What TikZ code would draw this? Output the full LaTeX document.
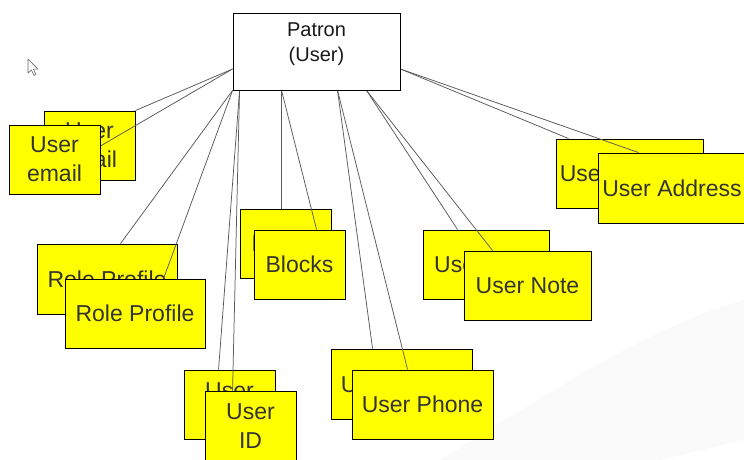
\documentclass[tikz,border=0pt]{standalone}
\usepackage{fontspec}
\setmainfont{Liberation Sans}
\definecolor{pyellow}{RGB}{255,255,0}
\pgfdeclarelayer{backconn}
\pgfdeclarelayer{backbox}
\pgfdeclarelayer{frontconn}
\pgfsetlayers{backconn,backbox,frontconn,main}
\begin{document}
\begin{tikzpicture}[x=1pt,y=-1pt,
  ybox/.style={draw=black, line width=0.9pt, fill=pyellow, text=black!80,
    font=\fontsize{23}{28.7}\selectfont, align=center, inner sep=0pt},
  pbox/.style={draw=black, line width=0.9pt, fill=white, inner sep=0pt,
    minimum width=167pt, minimum height=77pt},
  ptext/.style={text=black!90, font=\fontsize{20}{25}\selectfont, align=center, inner sep=0pt},
  conn/.style={draw=black!65, line width=0.75pt}]
\useasboundingbox (0,0) rectangle (744,460);
\begin{pgfonlayer}{backconn}
\fill[white] (0,0) rectangle (744,460);
% faint background swoosh
\fill[black!2] (440,460) .. controls (540,400) and (640,330) .. (744,300) -- (744,440) .. controls (700,450) and (680,455) .. (660,460) -- cycle;
% mouse cursor
\draw[black!60, fill=white, line width=0.6pt, line join=round] (28,59) -- (28,73) -- (31.5,70) -- (34,75.5) -- (36,74.5) -- (33.5,69.2) -- (38,69.2) -- cycle;
\end{pgfonlayer}

% central box
\node[pbox] (patron) at (316.5,51.5) {};
\node[ptext] (ptxt) at (316.5,44.5) {Patron\\(User)};

% back boxes
\begin{pgfonlayer}{backbox}
\node[ybox, minimum width=91pt, minimum height=69pt] (eb) at (89.5,145.5) {User\\email};
\node[ybox, minimum width=140pt, minimum height=70pt] (rb) at (107,279) {Role Profile};
\node[ybox, minimum width=91pt, minimum height=69pt] (ib) at (229.5,404.5) {User\\ID};
\node[ybox, minimum width=91pt, minimum height=69pt] (bb) at (285.5,243.5) {Blocks};
\node[ybox, minimum width=141pt, minimum height=70pt] (phb) at (401.5,384) {User Phone};
\node[ybox, minimum width=126pt, minimum height=69pt] (nb) at (486,264.5) {User Note};
\node[ybox, minimum width=147pt, minimum height=69pt] (ab) at (629.5,173.5) {User Address};
\end{pgfonlayer}

% front boxes
\node[ybox, minimum width=91pt, minimum height=69pt] (ef) at (54.5,159.5) {User\\email};
\node[ybox, minimum width=140pt, minimum height=69pt] (rf) at (135,313.5) {Role Profile};
\node[ybox, minimum width=91pt, minimum height=70.5pt] (idf) at (250.5,426.25) {User\\ID};
\node[ybox, minimum width=91pt, minimum height=69pt] (bf) at (299.5,264.5) {Blocks};
\node[ybox, minimum width=141pt, minimum height=69pt] (phf) at (422.5,404.5) {User Phone};
\node[ybox, minimum width=127pt, minimum height=69pt] (nf) at (527.5,285.5) {User Note};
\node[ybox, minimum width=148pt, minimum height=70pt] (af) at (672,188) {User Address};

% connectors to back boxes
\begin{pgfonlayer}{backconn}
\draw[conn] ([yshift=-17.5pt]patron.west) -- (eb.north east);
\draw[conn] (patron.south west) -- ([xshift=84pt]rb.north west);
\draw[conn] ([xshift=7pt]patron.south west) -- ([xshift=35pt]ib.north west);
\draw[conn] ([xshift=49pt]patron.south west) -- ([xshift=42pt]bb.north west);
\draw[conn] ([xshift=105pt]patron.south west) -- ([xshift=42pt]phb.north west);
\draw[conn] ([xshift=134pt]patron.south west) -- ([xshift=35pt]nb.north west);
\draw[conn] ([yshift=-17.5pt]patron.east) -- ([xshift=13pt]ab.north west);
\end{pgfonlayer}

% connectors to front boxes
\begin{pgfonlayer}{frontconn}
\draw[conn] ([yshift=-17.5pt]patron.west) -- ([yshift=13.5pt]ef.east);
\draw[conn] (patron.south west) -- ([xshift=99pt]rf.north west);
\draw[conn] ([xshift=7pt]patron.south west) -- ([xshift=28pt]idf.north west);
\draw[conn] ([xshift=49pt]patron.south west) -- ([xshift=63pt]bf.north west);
\draw[conn] ([xshift=105pt]patron.south west) -- ([xshift=56pt]phf.north west);
\draw[conn] ([xshift=134pt]patron.south west) -- ([xshift=29pt]nf.north west);
\draw[conn] ([yshift=-17.5pt]patron.east) -- ([xshift=41pt]af.north west);
\end{pgfonlayer}
\end{tikzpicture}
\end{document}
